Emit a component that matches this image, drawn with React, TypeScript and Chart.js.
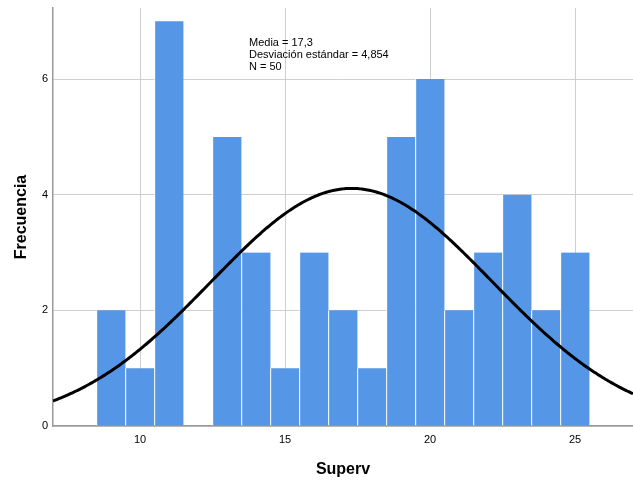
import React, { useEffect, useRef } from "react";
import { Chart, registerables } from "chart.js";

Chart.register(...registerables);

const binCenters = [9, 10, 11, 12, 13, 14, 15, 16, 17, 18, 19, 20, 21, 22, 23, 24, 25];
const frequencies = [2, 1, 7, 0, 5, 3, 1, 3, 2, 1, 5, 6, 2, 3, 4, 2, 3];
const xTicks = [10, 15, 20, 25];
const yTicks = [0, 2, 4, 6];
const meanValue = 17.3;
const sdValue = 4.854;
const nValue = 50;
const statLines = ["Media = 17,3", "Desviación estándar = 4,854", "N = 50"];

// Fitted normal curve from the shown mean / SD (bin width 1)
const curveXs: number[] = [];
for (let i = 0; i <= 400; i++) curveXs.push(7 + i * 0.05);
const curvePoints = curveXs.map((x) => ({
  x,
  y: (nValue / (sdValue * Math.sqrt(2 * Math.PI))) * Math.exp(-0.5 * ((x - meanValue) / sdValue) ** 2),
}));

const statsPlugin = {
  id: "stats",
  afterDatasetsDraw(chart: any) {
    const ctx = chart.ctx;
    ctx.save();
    ctx.fillStyle = "#000";
    ctx.font = "11px 'Liberation Sans', Arial, sans-serif";
    ctx.textAlign = "left";
    ctx.textBaseline = "alphabetic";
    statLines.forEach((t, i) => ctx.fillText(t, 249, 46 + i * 12));
    ctx.restore();
  },
};

export default function App() {
  const ref = useRef<HTMLCanvasElement | null>(null);
  useEffect(() => {
    if (!ref.current) return;
    const chart = new Chart(ref.current, {
      type: "bar",
      data: {
        datasets: [
          {
            type: "line" as any,
            data: curvePoints as any,
            borderColor: "#000",
            borderWidth: 3,
            pointRadius: 0,
            tension: 0,
            order: 0,
          } as any,
          {
            type: "bar",
            data: binCenters.map((x, i) => ({ x, y: frequencies[i] })) as any,
            backgroundColor: "#5596e6",
            borderColor: "#ffffff",
            borderWidth: { left: 1, right: 0, top: 0, bottom: 0 } as any,
            borderSkipped: false,
            barPercentage: 1,
            categoryPercentage: 1,
            order: 1,
          } as any,
        ],
      },
      options: {
        animation: false,
        responsive: false,
        maintainAspectRatio: false,
        layout: { padding: { top: 8, left: 0, right: 0, bottom: 0 } },
        plugins: { legend: { display: false }, tooltip: { enabled: false } },
        scales: {
          x: {
            type: "linear",
            min: 7,
            max: 27,
            offset: false,
            afterBuildTicks: (s: any) => {
              s.ticks = xTicks.map((v) => ({ value: v }));
            },
            afterFit: (s: any) => {
              s.height = 56;
              s.paddingLeft = 0;
              s.paddingRight = 0;
            },
            grid: { color: "#cfcfcf", lineWidth: 1, drawTicks: false, offset: false },
            border: { color: "#999999", width: 1.5 },
            ticks: {
              color: "#000",
              padding: 7,
              font: { family: "'Liberation Sans', Arial, sans-serif", size: 11 },
            },
            title: {
              display: true,
              text: "Superv",
              color: "#000",
              font: { family: "'Liberation Sans', Arial, sans-serif", size: 16, weight: "bold" },
              padding: { top: 0, bottom: 3 },
            },
          },
          y: {
            type: "linear",
            min: 0,
            max: 7.23,
            afterBuildTicks: (s: any) => {
              s.ticks = yTicks.map((v) => ({ value: v }));
            },
            afterFit: (s: any) => {
              s.width = 53;
              s.paddingTop = 0;
              s.paddingBottom = 0;
            },
            grid: { color: "#cfcfcf", lineWidth: 1, drawTicks: false },
            border: { color: "#999999", width: 1.5 },
            ticks: {
              color: "#000",
              padding: 5,
              font: { family: "'Liberation Sans', Arial, sans-serif", size: 11 },
            },
            title: {
              display: true,
              text: "Frecuencia",
              color: "#000",
              font: { family: "'Liberation Sans', Arial, sans-serif", size: 16, weight: "bold" },
              padding: { top: 12, bottom: 0 },
            },
          },
        },
      },
      plugins: [statsPlugin],
    });
    return () => chart.destroy();
  }, []);
  return (
    <div style={{ position: "fixed", left: 0, top: 0, width: 633, height: 482, background: "#fff" }}>
      <canvas ref={ref} width={633} height={482} style={{ width: 633, height: 482 }} />
    </div>
  );
}
